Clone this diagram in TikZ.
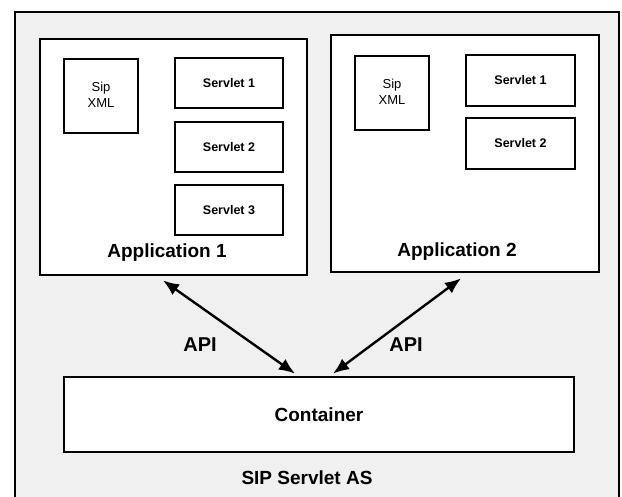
\documentclass[tikz,border=0pt]{standalone}
\usepackage{fontspec}
\setmainfont{Liberation Sans}
\usepackage{tikz}
\usetikzlibrary{arrows.meta, positioning}

\begin{document}
\begin{tikzpicture}[
                x=1pt, y=-1pt,
                box/.style={draw, line width=2.8pt, fill=white, inner sep=0pt},
                appbox/.style={box, minimum width=267pt, minimum height=236pt},
                sipbox/.style={box, minimum width=74pt, minimum height=74pt, align=center, font=\fontsize{13}{15.5}\selectfont},
                servletbox/.style={box, minimum width=108pt, minimum height=50pt, font=\bfseries\fontsize{12.5}{13}\selectfont},
                title/.style={font=\bfseries\fontsize{19}{20}\selectfont, inner sep=0pt},
                label/.style={font=\bfseries\fontsize{20}{20}\selectfont, inner sep=0pt},
                arrow/.style={{Latex[length=16pt,width=13pt]}-{Latex[length=16pt,width=13pt]}, line width=2.4pt}]

            \useasboundingbox[fill=white] (0,0) rectangle (622,497);

            % Serveur
            \draw[fill=black!6, line width=2pt] (15,12) rectangle (619,506);

            % Application 1
            \node[appbox] (app1) at (173.5,157) {};
            \node[sipbox] (sip1) at (101,96) {Sip\\XML\vphantom{p}};
            \node[servletbox] (srv11) at (229,83) {Servlet 1};
            \node[servletbox] (srv12) at (229,147) {Servlet 2};
            \node[servletbox] (srv13) at (229,210) {Servlet 3};
            \node[title] (app1lbl) at (167,253) {Application 1};

            % Application 2
            \node[appbox, minimum width=268pt, minimum height=237pt] (app2) at (465,153.5) {};
            \node[sipbox] (sip2) at (392,93) {Sip\\XML\vphantom{p}};
            \node[servletbox, minimum width=109pt, minimum height=51pt] (srv21) at (520.5,80.5) {Servlet 1};
            \node[servletbox, minimum width=109pt, minimum height=51pt] (srv22) at (520.5,143.5) {Servlet 2};
            \node[title] (app2lbl) at (457,252) {Application 2};

            % Conteneur
            \node[box, minimum width=510pt, minimum height=75pt, font=\bfseries\fontsize{19}{20}\selectfont] (cont) at (319,414.5) {Container};
            \node[title] (as) at (307,478) {SIP Servlet AS};

            % API
            \draw[arrow] ([xshift=-10.5pt, yshift=-4pt]app1.south) -- ([xshift=-24pt, yshift=2pt]cont.north);
            \draw[arrow] ([xshift=-4pt, yshift=-5pt]app2.south) -- ([xshift=14pt, yshift=2pt]cont.north);
            \node[label] (api1) at (200,345) {API};
            \node[label] (api2) at (406,345) {API};

        \end{tikzpicture}
\end{document}
